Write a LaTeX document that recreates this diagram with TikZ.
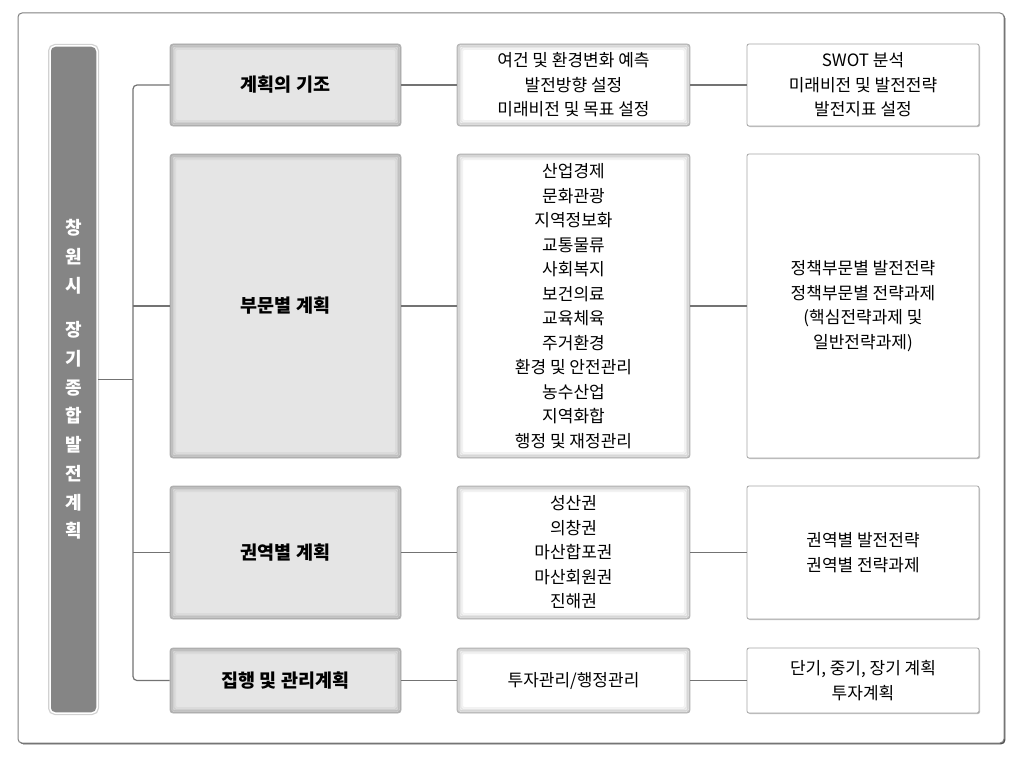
\documentclass[tikz,border=0pt]{standalone}
\usepackage{fontspec}
\setmainfont{Noto Sans CJK KR}
\usetikzlibrary{positioning}
\usetikzlibrary{shadows}

\begin{document}
\begin{tikzpicture}[x=1pt,y=-1pt]
	\tikzstyle{edge}=[draw=black!55, line width=1.2pt]
	\tikzstyle{frame}=[draw=black!50, line width=1pt, fill=white, rounded corners=4pt, drop shadow={shadow xshift=1.3pt, shadow yshift=-1.3pt, opacity=1, fill=black!70}]
	\tikzstyle{bar}=[rectangle, rounded corners=5pt, fill=black!48, draw=white, line width=1.5pt, minimum width=47pt, minimum height=667pt, inner sep=0pt, text=white, align=center, font=\fontsize{18}{28.7}\selectfont\bfseries, preaction={draw=black!18, line width=4pt}]
	\tikzstyle{head}=[rectangle, rounded corners=3pt, fill=black!10, draw=black!30, line width=0.8pt, minimum width=231pt, inner sep=0pt, align=center, font=\fontsize{18.5}{22}\selectfont\bfseries, path picture={\foreach \w/\g in {0.75/32,2.25/25,3.75/19,5.25/14} \draw[black!\g, line width=1.5pt, rounded corners=2pt] ([xshift=\w pt, yshift=-\w pt]path picture bounding box.north west) rectangle ([xshift=-\w pt, yshift=\w pt]path picture bounding box.south east);}]
	\tikzstyle{mid}=[rectangle, rounded corners=3pt, fill=white, draw=black!30, line width=0.8pt, minimum width=233pt, inner sep=0pt, align=center, font=\fontsize{17}{24.5}\selectfont, path picture={\foreach \w/\g in {0.75/24,2.25/16,3.75/10,5.25/5} \draw[black!\g, line width=1.5pt, rounded corners=2pt] ([xshift=\w pt, yshift=-\w pt]path picture bounding box.north west) rectangle ([xshift=-\w pt, yshift=\w pt]path picture bounding box.south east);}]
	\tikzstyle{note}=[rectangle, rounded corners=2pt, fill=white, draw=black!35, line width=0.8pt, minimum width=232pt, inner sep=0pt, align=center, font=\fontsize{17}{24.5}\selectfont, drop shadow={shadow xshift=1pt, shadow yshift=-1pt, opacity=0.5, fill=black!50}]

	\fill[white] (0,0) rectangle (1018,768);
	\useasboundingbox (0,0) rectangle (1018,768);
	\draw[frame] (18,13) rectangle (1004,743);

	\node [bar] (0) at (73.5,379.5) {창\\원\\시\\[16pt]장\\기\\종\\합\\발\\전\\계\\획};

	\node [head, minimum height=82pt] (1) at (285.5,85) {계획의 기조};
	\node [head, minimum height=304pt] (2) at (285.5,306) {부문별 계획};
	\node [head, minimum height=133pt] (3) at (285.5,552.5) {권역별 계획};
	\node [head, minimum height=65pt] (4) at (285.5,680.5) {집행 및 관리계획};

	\node [mid, minimum height=82pt] (1b) at (573.5,85) {여건 및 환경변화 예측\\발전방향 설정\\미래비전 및 목표 설정};
	\node [mid, minimum height=304pt] (2b) at (573.5,306) {산업경제\\문화관광\\지역정보화\\교통물류\\사회복지\\보건의료\\교육체육\\주거환경\\환경 및 안전관리\\농수산업\\지역화합\\행정 및 재정관리};
	\node [mid, minimum height=133pt] (3b) at (573.5,552.5) {성산권\\의창권\\마산합포권\\마산회원권\\진해권};
	\node [mid, minimum height=65pt] (4b) at (573.5,680.5) {투자관리/행정관리};

	\node [note, minimum height=82pt] (1c) at (863,85) {SWOT 분석\\미래비전 및 발전전략\\발전지표 설정};
	\node [note, minimum height=304pt] (2c) at (863,306) {정책부문별 발전전략\\정책부문별 전략과제\\(핵심전략과제 및\\일반전략과제)};
	\node [note, minimum height=133pt] (3c) at (863,552.5) {권역별 발전전략\\권역별 전략과제};
	\node [note, minimum height=65pt] (4c) at (863,680.5) {단기, 중기, 장기 계획\\투자계획};

	\coordinate (t) at (133,306);
	\path[edge, rounded corners=4pt] (1.west) -| (t) |- (4.west);
	\path[edge] (0.east) -- (0.east -| t);
	\path[edge] (2.west) -- (t);
	\path[edge] (3.west) -- (3.west -| t);
	\foreach \i in {1,...,4} {
		\path[edge] (\i.east) -- (\i b.west);
		\path[edge] (\i b.east) -- (\i c.west);
	}

\end{tikzpicture}
\end{document}
